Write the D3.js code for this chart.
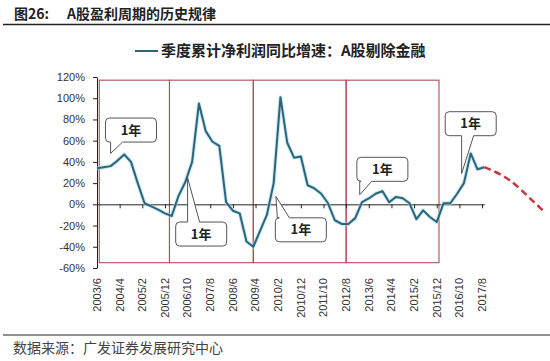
<!DOCTYPE html>
<html>
<head>
<meta charset="utf-8">
<script src="https://cdn.jsdelivr.net/npm/d3@7"></script>
<style>
body { margin: 0; background: #fff; }
svg { display: block; font-family: "Liberation Sans", Arial, sans-serif; }
.cjk { font-family: "Noto Sans CJK SC", sans-serif; }
</style>
</head>
<body>
<svg id="chart" width="550" height="361"></svg>
<script>
'use strict';

// quarterly data, first point is 2003/6
var startDate = '2003/6';
var growth = [34, 35, 36, 41, 47, 40, 20, 1, -2, -5,
	-8.5, -11, 8, 21, 40, 95, 69, 59, 55, 2,
	-6, -8.5, -35, -40, -25, -10, 20, 101, 58, 44,
	45, 18, 15, 10, 1, -15, -18.5, -18.5, -13, 2,
	5.5, 10, 12.5, 2, 7, 5.7, 1, -14, -5.7, -12,
	-16.7, 1, 1, 10, 20, 48, 33, 35];
var forecastDates = ['2017/9', '2018/8', '2019/6', '2019/11'];
var forecastValues = [35, 23, 4, -6];
var xTickLabels = ['2003/6', '2004/4', '2005/2', '2005/12', '2006/10', '2007/8', '2008/6', '2009/4', '2010/2',
	'2010/12', '2011/10', '2012/8', '2013/6', '2014/4', '2015/2', '2015/12', '2016/10', '2017/8'];
var yTicks = [-60, -40, -20, 0, 20, 40, 60, 80, 100, 120];
var cycleEdges = ['2003/7', '2006/2', '2009/3', '2012/8', '2016/1'];
var cycleRange = [-55, 117];
var calloutTips = [['2003/12', 48], ['2006/10', 25], ['2010/1', 7.5], ['2013/2', 9], ['2016/11', 29]];
var calloutBoxes = [['2004/9', 70], ['2007/4', -28], ['2010/12', -24], ['2013/12', 33], ['2017/3', 76]];
var calloutText = '1年';
var seriesName = '季度累计净利润同比增速：A股剔除金融';

var monthIndex = function(s) {
	var p = s.split('/'), q = startDate.split('/');
	return (+p[0] - +q[0]) * 12 + (+p[1] - +q[1]);
};

var svg = d3.select('#chart');
var lineColor = '#2d6479';

var xscale = d3.scaleLinear().domain([0, 171]).range([97, 484.3]);
var yscale = d3.scaleLinear().domain([-60, 120]).range([268, 77]);

// title
svg.append('text').attr('class', 'cjk').attr('x', 14).attr('y', 19)
	.style('font-size', '14px').style('font-weight', 'bold').attr('fill', '#222').text('图26:');
svg.append('text').attr('class', 'cjk').attr('x', 67).attr('y', 19)
	.style('font-size', '14px').style('font-weight', 'bold').attr('fill', '#222').text('A股盈利周期的历史规律');
svg.append('line').attr('x1', 3).attr('x2', 550).attr('y1', 24.5).attr('y2', 24.5)
	.attr('stroke', '#222').attr('stroke-width', 1.5);

// legend
svg.append('line').attr('x1', 135).attr('x2', 158).attr('y1', 51).attr('y2', 51)
	.attr('stroke', lineColor).attr('stroke-width', 2);
svg.append('text').attr('class', 'cjk').attr('x', 161).attr('y', 56)
	.style('font-size', '15px').style('font-weight', 'bold').attr('fill', '#222').text(seriesName);

// cycle boxes
for (var i = 0; i < cycleEdges.length - 1; i++) {
	var x0 = xscale(monthIndex(cycleEdges[i])), x1 = xscale(monthIndex(cycleEdges[i + 1]));
	svg.append('rect')
		.attr('x', x0).attr('y', yscale(cycleRange[1]))
		.attr('width', x1 - x0).attr('height', yscale(cycleRange[0]) - yscale(cycleRange[1]))
		.attr('fill', 'none').attr('stroke', '#b0505a').attr('stroke-width', 1.1);
}

// y axis
var yaxis = svg.append('g').attr('transform', 'translate(97,0)')
	.call(d3.axisLeft(yscale).tickValues(yTicks).tickSize(4).tickSizeOuter(0).tickPadding(8)
		.tickFormat(function(d) { return d + '%'; }));
yaxis.selectAll('text').style('font-size', '11px').attr('fill', '#333');
yaxis.selectAll('line,path').attr('stroke', '#222');

// x axis on the zero line, labels at the bottom
var xaxis = svg.append('g').attr('transform', 'translate(0,' + yscale(0) + ')')
	.call(d3.axisBottom(xscale).tickValues(xTickLabels.map(monthIndex)).tickSize(4).tickSizeOuter(0)
		.tickFormat(''));
xaxis.selectAll('line,path').attr('stroke', '#222');

svg.append('g').selectAll('text')
	.data(xTickLabels)
	.enter().append('text')
	.attr('transform', function(d) { return 'translate(' + xscale(monthIndex(d)) + ',278) rotate(-90)'; })
	.attr('dy', '0.35em')
	.attr('text-anchor', 'end')
	.style('font-size', '11px')
	.attr('fill', '#333')
	.text(function(d) { return d; });

// series
var line = d3.line()
	.x(function(d, i) { return xscale(i * 3); })
	.y(function(d) { return yscale(d); });

svg.append('path').attr('d', line(growth)).attr('fill', 'none')
	.attr('stroke', '#a8dbe8').attr('stroke-width', 4).attr('stroke-linejoin', 'round').attr('opacity', 0.6);
svg.append('path').attr('d', line(growth)).attr('fill', 'none')
	.attr('stroke', lineColor).attr('stroke-width', 2).attr('stroke-linejoin', 'round');

var forecastLine = d3.line()
	.curve(d3.curveMonotoneX)
	.x(function(d, i) { return xscale(monthIndex(forecastDates[i])); })
	.y(function(d) { return yscale(d); });

svg.append('path').attr('d', forecastLine(forecastValues)).attr('fill', 'none')
	.attr('stroke', '#c8363f').attr('stroke-width', 2.5).attr('stroke-dasharray', '7,4');

// callouts
var calloutPath = function(cx, cy, tx, ty) {
	var w = 51, h = 24, r = 4;
	var l = cx - w / 2, R = cx + w / 2, t = cy - h / 2, B = cy + h / 2;
	var bc = Math.max(l + 8, Math.min(R - 14, tx + 6));
	var b1 = bc - 6, b2 = bc + 6;
	var p = 'M' + (l + r) + ',' + t;
	if (ty < t) p += 'L' + b1 + ',' + t + 'L' + tx + ',' + ty + 'L' + b2 + ',' + t;
	p += 'L' + (R - r) + ',' + t + 'Q' + R + ',' + t + ' ' + R + ',' + (t + r);
	p += 'L' + R + ',' + (B - r) + 'Q' + R + ',' + B + ' ' + (R - r) + ',' + B;
	if (ty > B) p += 'L' + b2 + ',' + B + 'L' + tx + ',' + ty + 'L' + b1 + ',' + B;
	p += 'L' + (l + r) + ',' + B + 'Q' + l + ',' + B + ' ' + l + ',' + (B - r);
	p += 'L' + l + ',' + (t + r) + 'Q' + l + ',' + t + ' ' + (l + r) + ',' + t + 'Z';
	return p;
};

calloutBoxes.forEach(function(b, i) {
	var cx = xscale(monthIndex(b[0])), cy = yscale(b[1]);
	var tx = xscale(monthIndex(calloutTips[i][0])), ty = yscale(calloutTips[i][1]);
	var g = svg.append('g');
	g.append('path').attr('d', calloutPath(cx, cy, tx, ty))
		.attr('fill', '#fff').attr('stroke', '#555').attr('stroke-width', 1);
	g.append('text').attr('class', 'cjk').attr('x', cx).attr('y', cy).attr('dy', '0.35em')
		.attr('text-anchor', 'middle').style('font-size', '13px').style('font-weight', 'bold')
		.attr('fill', '#222').text(calloutText);
});

// footer
svg.append('line').attr('x1', 3).attr('x2', 550).attr('y1', 335).attr('y2', 335)
	.attr('stroke', '#222').attr('stroke-width', 1.2);
svg.append('text').attr('class', 'cjk').attr('x', 13).attr('y', 353)
	.style('font-size', '14px').attr('fill', '#444').text('数据来源：广发证券发展研究中心');
</script>
</body>
</html>
